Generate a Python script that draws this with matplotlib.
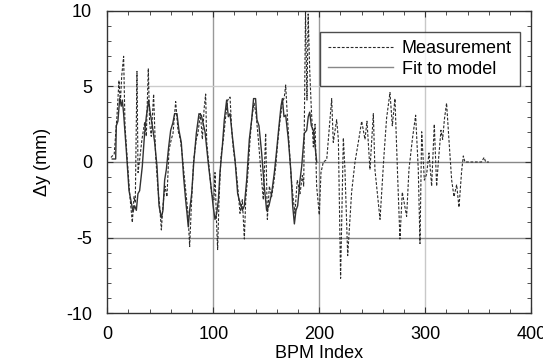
import numpy as np
import matplotlib
matplotlib.use("Agg")
import matplotlib.pyplot as plt

plt.rcParams['font.family'] = ['Liberation Sans', 'DejaVu Sans']
plt.rcParams['axes.unicode_minus'] = False

#fit to model (solid)
fit_x = [4.7, 7.9, 8.5, 10, 11.7, 13.2, 14.2, 15.4, 17.9, 20.5, 22.7, 24.2, 25.8, 27.4, 28.9, 30.5,
         33.0, 35.2, 36.8, 39.0, 40.6, 42.5, 44.7, 46.9, 48.8, 51.0, 52.5, 54.1, 55.7, 57.9, 59.8,
         61.9, 63.5, 65.7, 67.6, 69.8, 72.0, 73.9, 75.2, 76.4, 77.7, 79.6, 81.5, 84.0, 86.5, 88.7,
         90.3, 92.2, 95.3, 97.8, 100, 101.6, 103.2, 104.8, 106.3, 108.5, 110.4, 112.6, 114.2, 115.8,
         118, 120.5, 123, 125.2, 127.4, 129.3, 131.5, 134, 136.2, 138, 139.9, 141.2, 143.1, 145.6,
         148.1, 150.3, 152.5, 155, 157.6, 159.8, 162, 163.9, 165.2, 166.7, 168.3, 170.8, 173.3,
         174.9, 176.5, 178, 179.6, 181.8, 183.4, 185.9, 188.1, 189.6, 191.0, 192.5, 194.4, 197.6]
fit_y = [0.2, 0.2, 2.4, 2.7, 4.2, 3.7, 4.1, 3.2, 0.8, -1.9, -2.7, -3.3, -2.9, -3.2, -2.1, -1.9,
         -0.3, 1.9, 3.0, 4.1, 3.2, 2.4, 1.3, -0.3, -2.9, -3.7, -3.2, -1.2, -0.5, 1.0, 2.1,
         2.6, 3.2, 3.2, 2.1, 1.3, -1.0, -2.5, -3.4, -4.3, -3.2, -2.1, -0.1, 1.9, 3.2, 3.1,
         2.6, 2.0, -0.1, -1.6, -3.0, -3.8, -3.4, -2.5, -0.7, 1.0, 2.8, 4.1, 3.0, 3.2,
         1.7, 0.15, -2.1, -2.7, -3.2, -2.9, -1.2, 1.5, 2.8, 4.2, 4.2, 2.8, 2.4, 0.6,
         -1.6, -3.2, -2.9, -2.1, -0.7, 0.8, 2.4, 3.7, 4.2, 3.0, 3.1, 1.5, -0.7,
         -2.9, -4.1, -3.2, -2.9, -1.2, -0.3, 1.9, 2.1, 3.0, 3.3, 2.4, 2.1, 0.0]

#measurement (dashed)
meas_x = [3.5, 4.7, 6.5, 9.1, 11, 12.3, 13.6, 15.4, 16.7, 18.6, 21.1, 23.6, 25.2, 26.4, 28, 29,
          30.5, 32.7, 35.2, 36.8, 38.7, 39.9, 41.5, 43.7, 45.6, 47.8, 49.4, 51, 52.5, 54.4, 56.3,
          58.2, 60.4, 62, 64.5, 66.7, 68.9, 70.8, 72.3, 74.6, 76.1, 77.7, 79.3, 81.5, 84, 85.5,
          87.8, 89.7, 91.3, 92.8, 93.8, 96, 98.4, 100.6, 101.6, 103.2, 104.1, 105.4, 107.3, 109.5,
          111.7, 113.6, 115.8, 117.4, 119, 121.2, 123, 125.2, 127.4, 129.3, 130.6, 132.5, 134.7,
          136.2, 138.4, 140.3, 142.5, 145, 147.2, 149.4, 151, 152.9, 155, 157, 158.9, 160.8, 163,
          165.2, 167, 168.3, 169.5, 171.4, 173.3, 175.5, 177, 179.2, 181.8, 184, 185.3, 187,
          188.4, 189.5, 191, 192.5, 194.4, 196, 197.5, 200, 201.6, 203.8, 207, 209.1, 211.7,
          213.2, 216.4, 218, 220.1, 222.7, 224.2, 226.8, 230.5, 233.7, 236.8, 240, 243.1, 245,
          247.8, 251, 252.5, 254.1, 257.3, 261, 263.5, 266.7, 268.9, 271.4, 273.9, 276.1, 278.3,
          282.4, 284.6, 287.8, 290.9, 293.4, 295, 296.6, 299.1, 301.3, 303.5, 306, 308.5, 310.7,
          312.3, 314.8, 316.4, 318, 320.1, 322.3, 324.9, 327.1, 329.6, 331.8, 334.3, 335.9, 337.4,
          346.9, 353, 355.5, 357, 360]
meas_y = [0.3, 0.4, 0.5, 3.0, 5.4, 3.9, 5.7, 7.0, 2.4, 0.4, -2.1, -4.0, -2.3, -2.7, 6.0, -0.7,
          0.15, 1.5, 2.6, 1.7, 6.2, 2.6, 1.7, 4.5, 0.4, -1.8, -2.9, -4.5, -2.9, -1.6, -2.3,
          0.8, 1.5, 1.9, 4.0, 2.1, 1.5, 0.4, -0.7, -2.3, -3.4, -5.6, -2.9, 0.15, 1.5, 1.9,
          3.2, 1.5, 3.5, 4.5, 1.3, -0.3, -2.1, -2.5, -0.7, -4.3, -5.8, -2.5, 0.4, 1.5,
          3.0, 4.1, 4.3, 2.1, 0.8, -0.3, -1.6, -3.4, -2.5, -5.1, -2.5, -0.9, 1.5,
          2.8, 3.9, 3.2, 1.5, -0.7, -2.5, 1.9, -3.8, -1.6, -2.3, -1.4, -0.3, 1.3, 2.8,
          3.9, 4.3, 5.1, 3.5, 1.3, -0.9, -2.5, -3.4, -1.2, -2.1, -0.9, -1.6, 10.0,
          4.1, 9.8, 6.0, 3.5, 1.0, 2.5, -1.6, -3.5, -0.7, 0.0, 0.15, 2.0, 4.2,
          1.3, 2.8, 1.5, -7.7, 1.6, -0.5, -6.2, -2.0, 0.0, 1.3, 2.7, 1.5, 2.7,
          -0.5, 3.2, -0.5, -1.6, -3.8, 0.4, 2.9, 4.6, 2.4, 4.2, -0.9, -5.1, -2.0,
          -3.6, -0.5, 1.5, 3.1, -0.5, -5.4, 2.0, -1.2, -0.8, 0.6, -1.6, 2.5, -1.6,
          0.0, 2.1, 1.5, 2.8, 3.9, 1.5, -1.2, -2.3, -1.5, -3.0, -0.6, 0.4, 0.0,
          0.0, 0.0, 0.3, 0.0, 0.0]

x_ticks = [0, 100, 200, 300, 400]
y_ticks = [-10, -5, 0, 5, 10]


def main():
    fig = plt.figure(figsize=(5.43, 3.64), dpi=100)
    ax = fig.add_axes([0.1976, 0.1401, 0.7808, 0.8297])

    # grid lines, drawn by hand since they have different greys
    for xv, c in [(100, '#999999'), (200, '#999999'), (300, '#c8c8c8')]:
        ax.axvline(xv, color=c, lw=1.0, zorder=0)
    for yv, c in [(5, '#cccccc'), (0, '#888888'), (-5, '#888888')]:
        ax.axhline(yv, color=c, lw=1.0, zorder=0)

    ax.plot(meas_x, meas_y, color='#2a2a2a', lw=0.8, linestyle=(0, (2.5, 1.5)),
            label='Measurement', zorder=3)
    ax.plot(fit_x, fit_y, color='#333333', lw=1.0, label='Fit to model', zorder=2)

    ax.set_xlim(0, 400)
    ax.set_ylim(-10, 10)
    ax.set_xticks(x_ticks)
    ax.set_yticks(y_ticks)
    ax.set_xticks(np.arange(0, 401, 20), minor=True)
    ax.set_yticks(np.arange(-10, 11, 1), minor=True)
    ax.tick_params(which='both', direction='in', top=True, right=True, color='#333333')
    ax.tick_params(which='major', length=4, labelsize=13)
    ax.tick_params(which='minor', length=3)
    ax.tick_params(axis='x', pad=9)
    ax.tick_params(axis='y', pad=11)
    for s in ax.spines.values():
        s.set_color('#333333')
        s.set_linewidth(1.0)

    ax.set_xlabel('BPM Index', fontsize=13, labelpad=2)
    ax.set_ylabel('\u0394y (mm)', fontsize=13, labelpad=11)

    leg = ax.legend(loc='upper right', bbox_to_anchor=(0.9733, 0.9305), borderaxespad=0,
                    fontsize=13, fancybox=False, handlelength=3.6, handletextpad=0.5,
                    labelspacing=0.2, borderpad=0.45)
    leg.get_frame().set_edgecolor('#222222')
    leg.get_frame().set_linewidth(1.0)
    leg.get_lines()[1].set_color('#888888')

    fig.savefig('out.png', dpi=100)


if __name__ == "__main__":
    main()
